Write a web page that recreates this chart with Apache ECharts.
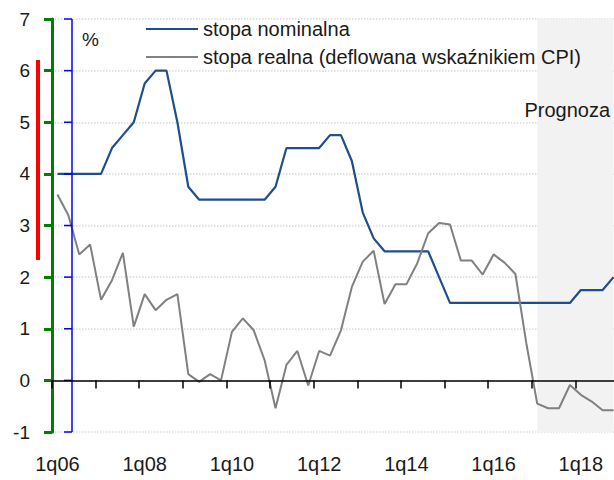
<!DOCTYPE html>
<html>
<head>
<meta charset="utf-8">
<script src="https://cdn.jsdelivr.net/npm/echarts@6/dist/echarts.min.js"></script>
<style>
	html, body { margin: 0; padding: 0; background: #fff; }
	#chart { width: 614px; height: 480px; }
</style>
</head>
<body>
<div id="chart"></div>
<script>
	var categories = [
		'1q06', '2q06', '3q06', '4q06', '1q07', '2q07', '3q07', '4q07',
		'1q08', '2q08', '3q08', '4q08', '1q09', '2q09', '3q09', '4q09',
		'1q10', '2q10', '3q10', '4q10', '1q11', '2q11', '3q11', '4q11',
		'1q12', '2q12', '3q12', '4q12', '1q13', '2q13', '3q13', '4q13',
		'1q14', '2q14', '3q14', '4q14', '1q15', '2q15', '3q15', '4q15',
		'1q16', '2q16', '3q16', '4q16', '1q17', '2q17', '3q17', '4q17',
		'1q18', '2q18', '3q18', '4q18'
	];
	var nominalRate = [
		4, 4, 4, 4, 4, 4.5, 4.75, 5,
		5.75, 6, 6, 5, 3.75, 3.5, 3.5, 3.5,
		3.5, 3.5, 3.5, 3.5, 3.75, 4.5, 4.5, 4.5,
		4.5, 4.75, 4.75, 4.25, 3.25, 2.75, 2.5, 2.5,
		2.5, 2.5, 2.5, 2.0, 1.5, 1.5, 1.5, 1.5,
		1.5, 1.5, 1.5, 1.5, 1.5, 1.5, 1.5, 1.5,
		1.75, 1.75, 1.75, 2.0
	];
	var realRate = [
		3.60, 3.20, 2.44, 2.63, 1.56, 1.94, 2.47, 1.04,
		1.67, 1.36, 1.56, 1.67, 0.12, -0.03, 0.12, 0.0,
		0.94, 1.20, 0.97, 0.39, -0.54, 0.30, 0.57, -0.10,
		0.57, 0.48, 0.97, 1.81, 2.30, 2.51, 1.48, 1.86,
		1.86, 2.27, 2.85, 3.05, 3.02, 2.32, 2.32, 2.05,
		2.44, 2.28, 2.06, 0.72, -0.45, -0.54, -0.54, -0.09,
		-0.28, -0.41, -0.58, -0.58
	];
	var yTicks = [-1, 0, 1, 2, 3, 4, 5, 6, 7];
	var forecastStart = '1q17';
	var forecastEnd = '4q18';
	var seriesNames = ['stopa nominalna', 'stopa realna (deflowana wskaźnikiem CPI)'];

	var font = 'Liberation Sans, Arial, sans-serif';
	var textColor = '#1a1a1a';
	var axisStyle = { color: '#000', width: 1.5 };

	function renderYAxisLine(params, api) {
		var p = api.coord([0, api.value(1)]);
		var x = p[0] - api.size([1, 0])[0] / 2 + 20;
		var children = [{
			type: 'rect',
			shape: { x: x - 8, y: p[1] - 0.75, width: 8, height: 1.5 },
			style: { fill: 'blue' }
		}];
		if (params.dataIndex === 0) {
			var top = api.coord([0, yTicks[yTicks.length - 1]])[1];
			var bottom = api.coord([0, yTicks[0]])[1];
			children.push({
				type: 'rect',
				shape: { x: x - 0.75, y: top, width: 1.5, height: bottom - top },
				style: { fill: 'blue' }
			});
		}
		return { type: 'group', children: children };
	}

	var chart = echarts.init(document.getElementById('chart'), null, { renderer: 'svg' });
	var option = {
		animation: false,
		backgroundColor: '#fff',
		grid: {
			left: 52,
			right: -5,
			top: 19,
			bottom: 48,
			outerBoundsMode: 'none'
		},
		legend: {
			data: seriesNames,
			orient: 'vertical',
			left: 141,
			top: 14,
			icon: 'rect',
			itemWidth: 52,
			itemHeight: 2.2,
			itemGap: 8,
			textStyle: {
				fontFamily: font,
				fontSize: 20,
				color: textColor
			}
		},
		graphic: [{
			type: 'text',
			left: 82,
			top: 30,
			z: 10,
			style: {
				text: '%',
				font: '19px ' + font,
				fill: textColor
			}
		}, {
			type: 'text',
			right: 4,
			top: 100,
			z: 10,
			style: {
				text: 'Prognoza',
				font: '20px ' + font,
				fill: textColor
			}
		}, {
			type: 'rect',
			left: 36,
			top: 60,
			z: 100,
			shape: { width: 4, height: 200 },
			style: { fill: 'red' }
		}],
		xAxis: [{
			type: 'category',
			data: categories,
			boundaryGap: true,
			position: 'bottom',
			z: 3,
			axisLine: {
				show: true,
				onZero: true,
				onZeroAxisIndex: 0,
				lineStyle: axisStyle
			},
			axisTick: {
				show: true,
				interval: 3,
				length: 8,
				lineStyle: axisStyle
			},
			axisLabel: { show: false }
		}, {
			type: 'category',
			data: categories,
			boundaryGap: true,
			position: 'bottom',
			axisLine: { show: false, onZero: false },
			axisTick: { show: false },
			axisLabel: {
				interval: 7,
				margin: 22,
				fontFamily: font,
				fontSize: 20,
				color: textColor
			}
		}],
		yAxis: {
			type: 'value',
			min: yTicks[0],
			max: yTicks[yTicks.length - 1],
			interval: 1,
			position: 'left',
			axisLine: { show: true, onZero: false, lineStyle: { color: 'green', width: 3 } },
			axisTick: { show: true, length: 8, lineStyle: { color: 'green', width: 3 } },
			axisLabel: {
				margin: 22,
				fontFamily: font,
				fontSize: 19,
				color: textColor
			},
			splitLine: {
				lineStyle: { color: '#d9d9d9', type: 'dotted', width: 1.5 }
			}
		},
		series: [{
			name: 'forecast',
			type: 'line',
			data: [],
			z: 1,
			markArea: {
				silent: true,
				itemStyle: { color: '#f2f2f2' },
				data: [[{ xAxis: forecastStart, yAxis: yTicks[yTicks.length - 1] }, { xAxis: forecastEnd, yAxis: yTicks[0] }]]
			}
		}, {
			name: seriesNames[0],
			type: 'line',
			data: nominalRate,
			symbol: 'none',
			z: 2,
			lineStyle: { color: '#1f4e8c', width: 2.2 },
			itemStyle: { color: '#1f4e8c' }
		}, {
			name: seriesNames[1],
			type: 'line',
			data: realRate,
			symbol: 'none',
			z: 2,
			lineStyle: { color: '#808080', width: 2 },
			itemStyle: { color: '#808080' }
		}, {
			name: 'yAxisLine',
			type: 'custom',
			clip: false,
			silent: true,
			z: 3,
			renderItem: renderYAxisLine,
			data: yTicks.map(function(v) { return [categories[0], v]; })
		}]
	};
	chart.setOption(option);
</script>
</body>
</html>
